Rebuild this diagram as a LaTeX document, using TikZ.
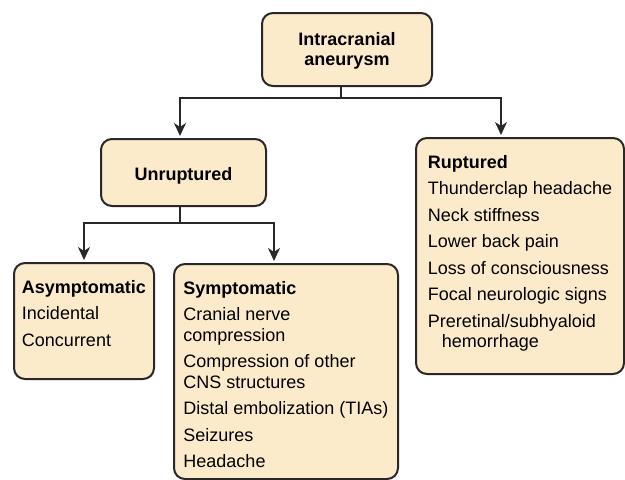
\documentclass[tikz,border=0pt]{standalone}
\usepackage{fontspec}
\setmainfont{Liberation Sans}
\usetikzlibrary{positioning, arrows.meta}
\definecolor{colorBox}{RGB}{252, 235, 202}
\definecolor{colorLine}{RGB}{40, 40, 40}
\tikzstyle{heading} = [rectangle, rounded corners=11pt, anchor=north west, draw=colorLine, line width=2pt, fill=colorBox, inner xsep=4pt, inner ysep=0pt, align=center, font=\fontsize{18}{20.5}\selectfont\bfseries]
\tikzstyle{list} = [rectangle, rounded corners=11pt, anchor=north west, draw=colorLine, line width=2pt, fill=colorBox, inner xsep=4pt, inner ysep=0pt, align=left, font=\fontsize{18}{20.5}\selectfont]
\tikzstyle{line} = [draw=colorLine, line width=2pt]
\tikzstyle{arrow} = [line, -{Stealth[length=13pt, width=12pt, inset=4pt]}, shorten >=2pt]

\begin{document}
\begin{tikzpicture}[x=1pt, y=-1pt]

	\useasboundingbox (0,0) rectangle (625,480);

	% top of the tree (text height runs down to the last baseline)
	\node (hAneurysm)[heading, minimum width=170pt, text height=52.5pt, text depth=20.5pt] at (261,12) {Intracranial\\aneurysm};

	\node (hUnruptured)[heading, minimum width=165pt, text height=41pt, text depth=26pt] at (100,138) {Unruptured};

	\node (lRuptured)[list, minimum width=208pt, text height=209.5pt, text depth=26.5pt] at (415,137) {\textbf{Ruptured}\\[6pt]
		Thunderclap headache\\[6pt]
		Neck stiffness\\[6pt]
		Lower back pain\\[6pt]
		Loss of consciousness\\[6pt]
		Focal neurologic signs\\[6pt]
		Preretinal/subhyaloid\\
		\hspace*{14pt}hemorrhage};

	% unruptured branch
	\node (lAsymptomatic)[list, minimum width=140pt, text height=83pt, text depth=33pt] at (13,262) {\textbf{Asymptomatic}\\[6pt]
		Incidental\\[6pt]
		Concurrent};

	\node (lSymptomatic)[list, minimum width=224pt, text height=203.5pt, text depth=11.5pt] at (173,263) {\textbf{Symptomatic}\\[6pt]
		Cranial nerve\\
		compression\\[6pt]
		Compression of other\\
		CNS structures\\[6pt]
		Distal embolization (TIAs)\\[6pt]
		Seizures\\[6pt]
		Headache};

	% lines and arrows
	\draw[line] ([xshift=-6pt]hAneurysm.south) -- ++(0,11) coordinate (splitTop);
	\draw[arrow] (splitTop) -| ([xshift=-3.5pt]hUnruptured.north);
	\draw[arrow] (splitTop) -| ([xshift=-19pt]lRuptured.north);

	\draw[line] ([xshift=-3.5pt]hUnruptured.south) -- ++(0,16) coordinate (splitUnruptured);
	\draw[arrow] (splitUnruptured) -| (lAsymptomatic.north);
	\draw[arrow] (splitUnruptured) -| ([xshift=-12pt]lSymptomatic.north);

\end{tikzpicture}
\end{document}
